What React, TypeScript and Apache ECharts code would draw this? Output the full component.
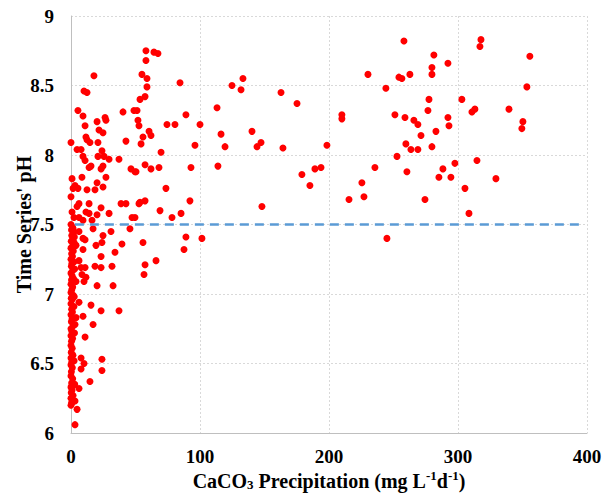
import React, { useEffect, useRef } from "react";
import * as echarts from "echarts";

// Points near zero precipitation (dense column)
const columnPoints: [number, number][] = [
  [0.0, 8.09], [0.8, 7.83], [0.0, 7.70], [0.8, 7.59], [0.0, 7.50], [1.2, 7.48], [0.4, 7.46], [2.0, 7.44],
  [0.6, 7.42], [1.5, 7.40], [0.2, 7.38], [2.4, 7.37], [0.9, 7.34], [0.0, 7.33], [1.8, 7.31], [0.5, 7.29],
  [1.1, 7.27], [0.0, 7.25], [2.2, 7.23], [0.7, 7.22], [0.3, 7.20], [1.4, 7.17], [0.0, 7.15], [0.9, 7.13],
  [2.0, 7.11], [0.4, 7.10], [0.0, 7.07], [1.3, 7.05], [0.6, 7.03], [0.0, 7.01], [1.7, 6.99], [0.2, 6.97],
  [0.9, 6.96], [0.0, 6.93], [2.3, 6.91], [0.5, 6.89], [1.1, 6.87], [0.0, 6.85], [0.8, 6.82], [0.3, 6.80],
  [1.6, 6.77], [0.0, 6.75], [0.7, 6.73], [0.0, 6.70], [1.2, 6.68], [0.4, 6.66], [0.0, 6.63], [0.9, 6.61],
  [0.2, 6.58], [1.5, 6.56], [0.0, 6.54], [0.6, 6.51], [0.0, 6.49], [1.0, 6.47], [0.3, 6.44], [0.0, 6.41],
  [1.3, 6.39], [0.5, 6.36], [0.0, 6.33], [0.8, 6.31], [0.2, 6.29], [1.6, 6.27], [0.0, 6.25], [0.6, 6.22],
  [0.0, 6.20], [2.6, 7.41], [2.8, 7.18], [2.5, 6.98], [2.7, 6.72], [2.4, 6.52], [2.9, 6.35],
];

// Points with low precipitation (0 - 55)
const lowPoints: [number, number][] = [
  [17.8, 8.57], [10.1, 8.46], [12.4, 8.45], [5.4, 8.32], [9.3, 8.28], [40.3, 8.31], [48.8, 8.32],
  [26.4, 8.27], [27.1, 8.25], [21.7, 8.18], [24.8, 8.16], [20.2, 8.24], [10.9, 8.21], [11.6, 8.13],
  [12.4, 8.11], [14.7, 8.09], [20.9, 8.09], [42.6, 8.10], [4.7, 8.04], [7.8, 8.04], [24.0, 8.03],
  [9.3, 7.99], [10.9, 7.96], [20.9, 7.99], [25.6, 7.99], [29.5, 7.97], [37.2, 7.97], [15.5, 7.92],
  [14.0, 7.91], [24.8, 7.92], [23.3, 7.90], [46.5, 7.90], [49.6, 7.88], [8.5, 7.84], [27.1, 7.84],
  [3.1, 7.78], [5.4, 7.76], [1.6, 7.76], [20.2, 7.80], [24.8, 7.77], [18.6, 7.75], [12.4, 7.75],
  [38.8, 7.65], [42.6, 7.65], [52.7, 7.65], [6.2, 7.65], [4.7, 7.63], [14.0, 7.65], [23.3, 7.62],
  [11.6, 7.59], [14.0, 7.58], [2.3, 7.55], [6.2, 7.55], [20.2, 7.57], [29.5, 7.58], [47.3, 7.55],
  [16.3, 7.53], [9.3, 7.53], [1.6, 7.47], [17.1, 7.47], [45.7, 7.47], [31.0, 7.45], [6.2, 7.45],
  [9.3, 7.40], [10.9, 7.39], [24.8, 7.42], [24.0, 7.37], [39.5, 7.36], [19.4, 7.35], [3.9, 7.35],
  [9.3, 7.32], [34.1, 7.30], [23.3, 7.27], [6.2, 7.24], [7.8, 7.19], [10.9, 7.19], [18.6, 7.20],
  [23.3, 7.19], [31.8, 7.20], [8.5, 7.14], [11.6, 7.12], [10.1, 7.09], [20.2, 7.06], [32.6, 7.06],
  [3.9, 7.09], [6.2, 6.94], [15.5, 6.92], [23.3, 6.88], [37.2, 6.88], [3.9, 6.83], [9.3, 6.84],
  [17.1, 6.78], [3.1, 6.78], [10.9, 6.69], [7.8, 6.54], [24.0, 6.53], [10.1, 6.50], [7.8, 6.46],
  [24.0, 6.45], [14.7, 6.37], [6.2, 6.32], [3.1, 6.23], [0.8, 6.22], [4.7, 6.17], [3.1, 6.06],
];

// Points with moderate precipitation (50 - 100)
const midPoints: [number, number][] = [
  [58.1, 8.75], [64.3, 8.74], [67.4, 8.73], [58.1, 8.68], [55.0, 8.58], [58.9, 8.55], [58.9, 8.49],
  [84.5, 8.52], [53.5, 8.40], [57.4, 8.42], [51.2, 8.32], [51.9, 8.25], [52.7, 8.21], [89.1, 8.29],
  [74.4, 8.22], [80.6, 8.22], [60.5, 8.17], [55.8, 8.13], [62.0, 8.14], [54.3, 8.08], [96.1, 8.07],
  [69.8, 8.02], [57.4, 7.93], [50.4, 7.88], [62.0, 7.90], [68.2, 7.91], [93.0, 7.91], [73.6, 7.76],
  [53.5, 7.66], [57.4, 7.67], [92.2, 7.67], [69.0, 7.60], [85.3, 7.58], [78.3, 7.55], [49.6, 7.55],
  [55.8, 7.37], [89.1, 7.41], [87.6, 7.32], [65.9, 7.24], [57.4, 7.21], [56.6, 7.14],
];

// Points with high precipitation (> 100)
const highPoints: [number, number][] = [
  [100.0, 8.22], [113.2, 8.34], [124.8, 8.50], [133.3, 8.55], [131.8, 8.47], [162.8, 8.45],
  [175.2, 8.37], [210.0, 8.29], [210.0, 8.26], [244.1, 8.48], [230.2, 8.58], [254.2, 8.56],
  [251.1, 8.29], [116.3, 8.15], [119.4, 8.06], [140.3, 8.17], [144.2, 8.06], [147.3, 8.09],
  [164.3, 8.05], [198.4, 8.07], [113.9, 7.92], [179.0, 7.86], [185.2, 7.78], [189.1, 7.90],
  [193.8, 7.91], [148.0, 7.63], [215.5, 7.68], [225.5, 7.80], [227.1, 7.70], [235.6, 7.91],
  [252.7, 7.99], [244.9, 7.40], [101.5, 7.40],
  [258.1, 8.82], [317.8, 8.83], [317.0, 8.78], [355.7, 8.71], [281.3, 8.72], [279.8, 8.63],
  [279.8, 8.58], [292.2, 8.66], [262.7, 8.58], [256.5, 8.55], [353.4, 8.49], [277.5, 8.40],
  [276.7, 8.32], [303.0, 8.40], [313.1, 8.33], [310.8, 8.31], [339.5, 8.33], [350.3, 8.24],
  [349.5, 8.19], [258.9, 8.27], [265.8, 8.25], [268.9, 8.22], [271.3, 8.14], [282.9, 8.17],
  [292.2, 8.27], [293.0, 8.21], [259.6, 8.08], [263.5, 8.04], [268.9, 8.04], [279.8, 8.06],
  [260.4, 7.88], [285.2, 7.84], [288.3, 7.90], [294.5, 7.84], [297.6, 7.94], [314.7, 7.96],
  [329.4, 7.83], [305.4, 7.76], [274.4, 7.68], [308.5, 7.58],
];

const thresholdPH = 7.5;
const xTicks = [0, 100, 200, 300, 400];
const yRange = [6, 9];

const FONT = "'Liberation Serif', 'Times New Roman', serif";

export default function App() {
  const ref = useRef<HTMLDivElement>(null);
  useEffect(() => {
    if (!ref.current) return;
    const chart = echarts.init(ref.current, null, { renderer: "svg" });
    const allPoints = [...columnPoints, ...lowPoints, ...midPoints, ...highPoints];
    const labelStyle = { fontFamily: FONT, fontWeight: "bold" as const, fontSize: 19, color: "#000" };
    const nameStyle = { ...labelStyle, fontSize: 20 };
    chart.setOption({
      animation: false,
      backgroundColor: "#fff",
      grid: { left: 71, right: 16, top: 16, bottom: 65, containLabel: false, outerBoundsMode: "none" },
      xAxis: {
        type: "value",
        min: xTicks[0],
        max: xTicks[xTicks.length - 1],
        interval: 100,
        axisLine: { show: true, lineStyle: { color: "#bfbfbf", width: 1 } },
        axisTick: { show: false },
        axisLabel: { ...labelStyle, margin: 14 },
        splitLine: { show: true, lineStyle: { color: "#d9d9d9", type: [2, 2], width: 1 } },
        name: "{a|CaCO}{sub|3}{a| Precipitation (mg L}{sup|-1}{a|d}{sup|-1}{a|)}",
        nameLocation: "middle",
        nameGap: 36,
        nameMoveOverlap: false,
        nameTextStyle: {
          ...nameStyle,
          rich: {
            a: { ...nameStyle },
            sub: { ...nameStyle, fontSize: 13, padding: [8, 0, 0, 0] },
            sup: { ...nameStyle, fontSize: 13, padding: [0, 0, 10, 0] },
          },
        },
      },
      yAxis: {
        type: "value",
        min: yRange[0],
        max: yRange[1],
        interval: 0.5,
        axisLine: { show: true, lineStyle: { color: "#bfbfbf", width: 1 } },
        axisTick: { show: false },
        axisLabel: { ...labelStyle, margin: 17 },
        splitLine: { show: true, lineStyle: { color: "#d9d9d9", type: [2, 2], width: 1 } },
        name: "Time Series' pH",
        nameLocation: "middle",
        nameGap: 37,
        nameMoveOverlap: false,
        nameTextStyle: { ...nameStyle },
      },
      series: [
        {
          type: "scatter",
          data: allPoints,
          symbol: "circle",
          symbolSize: 7,
          itemStyle: { color: "#ff0000", opacity: 1 },
          z: 3,
          markLine: {
            silent: true,
            symbol: "none",
            label: { show: false },
            lineStyle: { color: "#5b9bd5", type: [9, 6], width: 2.5, opacity: 1 },
            data: [[{ coord: [3, thresholdPH] }, { coord: [397, thresholdPH] }]],
          },
        },
      ],
    });
    return () => chart.dispose();
  }, []);
  return <div ref={ref} style={{ width: 603, height: 498, position: "absolute", left: 0, top: 0 }} />;
}
